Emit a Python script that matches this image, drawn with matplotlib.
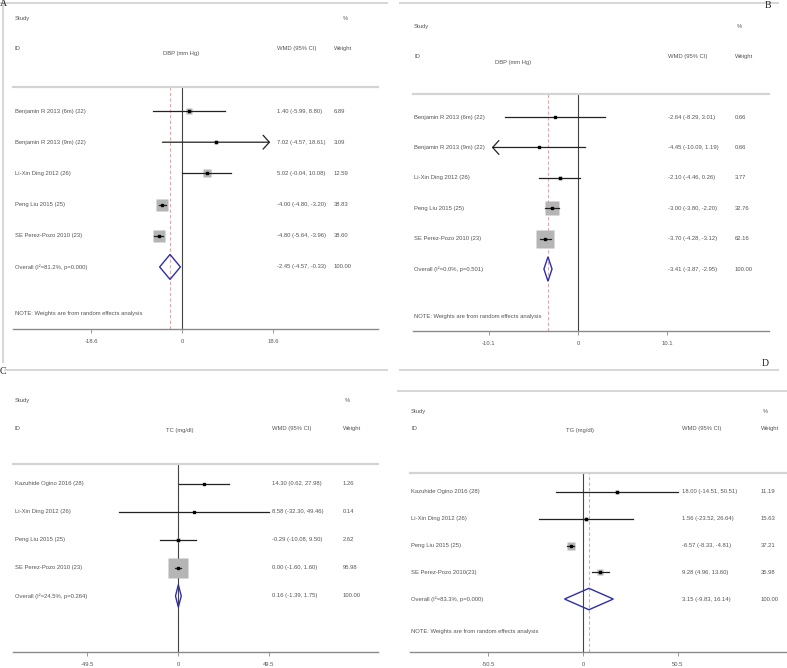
import numpy as np
import matplotlib
matplotlib.use("Agg")
import matplotlib.pyplot as plt
import matplotlib.transforms as mtransforms
from matplotlib.lines import Line2D
from matplotlib.patches import Polygon

plt.rcParams["font.family"] = ["Liberation Sans", "DejaVu Sans"]

W, H = 787, 668

# -----------------------------
# Data
# -----------------------------
# A: DBP
a_studies = ["Benjamin R 2013 (6m) (22)", "Benjamin R 2013 (9m) (22)",
             "Li-Xin Ding 2012 (26)", "Peng Liu 2015 (25)", "SE Perez-Pozo 2010 (23)"]
a_est = [1.40, 7.02, 5.02, -4.00, -4.80]
a_lo = [-5.99, -4.57, -0.04, -4.80, -5.64]
a_hi = [8.80, 18.61, 10.08, -3.20, -3.96]
a_wt = [6.89, 3.09, 12.59, 38.83, 38.60]
a_arrow = ["", "right", "", "", ""]
a_overall = [-2.45, -4.57, -0.33]
a_het = "Overall (I\u00b2=81.2%, p=0.000)"
a_ticks = [-18.6, 0, 18.6]
a_title = "DBP (mm Hg)"

# B: DBP
b_studies = ["Benjamin R 2013 (6m) (22)", "Benjamin R 2013 (9m) (22)",
             "Li-Xin Ding 2012 (26)", "Peng Liu 2015 (25)", "SE Perez-Pozo 2010 (23)"]
b_est = [-2.64, -4.45, -2.10, -3.00, -3.70]
b_lo = [-8.29, -10.09, -4.46, -3.80, -4.28]
b_hi = [3.01, 1.19, 0.26, -2.20, -3.12]
b_wt = [0.66, 0.66, 3.77, 32.76, 62.16]
b_arrow = ["", "left", "", "", ""]
b_overall = [-3.41, -3.87, -2.95]
b_het = "Overall (I\u00b2=0.0%, p=0.501)"
b_ticks = [-10.1, 0, 10.1]
b_title = "DBP (mm Hg)"

# C: TC
c_studies = ["Kazuhide Ogino 2016 (28)", "Li-Xin Ding 2012 (26)",
             "Peng Liu 2015 (25)", "SE Perez-Pozo 2010 (23)"]
c_est = [14.30, 8.58, -0.29, 0.00]
c_lo = [0.62, -32.30, -10.08, -1.60]
c_hi = [27.98, 49.46, 9.50, 1.60]
c_wt = [1.26, 0.14, 2.62, 95.98]
c_arrow = ["", "", "", ""]
c_overall = [0.16, -1.39, 1.75]
c_het = "Overall (I\u00b2=24.5%, p=0.264)"
c_ticks = [-49.5, 0, 49.5]
c_title = "TC (mg/dl)"

# D: TG
d_studies = ["Kazuhide Ogino 2016 (28)", "Li-Xin Ding 2012 (26)",
             "Peng Liu 2015 (25)", "SE Perez-Pozo 2010(23)"]
d_est = [18.00, 1.56, -6.57, 9.28]
d_lo = [-14.51, -23.52, -8.33, 4.96]
d_hi = [50.51, 26.64, -4.81, 13.60]
d_wt = [11.19, 15.63, 37.21, 35.98]
d_arrow = ["", "", "", ""]
d_overall = [3.15, -9.83, 16.14]
d_het = "Overall (I\u00b2=83.3%, p=0.000)"
d_ticks = [-50.5, 0, 50.5]
d_title = "TG (mg/dl)"

NOTE = "NOTE: Weights are from random effects analysis"
TXT = "#555555"
FS = 4.2


def px_rect(x0, x1, ytop, ybot):
    return [x0 / W, 1 - ybot / H, (x1 - x0) / W, (ybot - ytop) / H]


def forest(fig, rect, xlim, ylim, studies, est, lo, hi, wt, arrows,
           overall, het, ticks, title, lay, box_k, note=True):
    ax = fig.add_axes(rect)
    ax.set_xlim(*xlim)
    ax.set_ylim(*ylim)  # inverted: first row on top
    for s in ["left", "right"]:
        ax.spines[s].set_visible(False)
    ax.spines["top"].set_color("#d4d4d4")
    ax.spines["top"].set_linewidth(1.6)
    ax.spines["bottom"].set_color("#8a8a8a")
    ax.spines["bottom"].set_linewidth(1.0)
    ax.set_yticks([])
    ax.set_xticks(ticks)
    ax.set_xticklabels(["{:g}".format(t) for t in ticks])
    ax.tick_params(axis="x", length=3, width=0.6, color="#8a8a8a",
                   labelsize=FS, labelcolor=TXT, pad=4)

    ax.axvline(overall[0], color="#dcaaaa", lw=0.8, ls=(0, (3, 2)), zorder=0.9)
    ax.axvline(0, color="#444444", lw=0.8, zorder=1)

    arrow_style = dict(arrowstyle="->,head_length=0.45,head_width=0.5",
                       lw=0.9, color="#222222")
    tr = mtransforms.blended_transform_factory(ax.transAxes, ax.transData)
    for i in range(len(studies)):
        ax.plot(est[i], i, marker="s", ms=box_k * np.sqrt(wt[i]),
                color="#b5b5b5", mec="none", zorder=2)
        l, h = lo[i], hi[i]
        if arrows[i] == "right":
            ax.annotate("", xy=(ticks[-1], i), xytext=(l, i),
                        arrowprops=arrow_style, zorder=3)
        elif arrows[i] == "left":
            ax.annotate("", xy=(ticks[0], i), xytext=(h, i),
                        arrowprops=arrow_style, zorder=3)
        else:
            ax.plot([l, h], [i, i], color="#222222", lw=0.9, zorder=3)
        ax.plot(est[i], i, marker="s", ms=1.7, color="black", zorder=4)

        ax.text(lay["lab"], i, studies[i], transform=tr, fontsize=FS,
                color=TXT, va="center")
        ax.text(lay["est"], i, "{:.2f} ({:.2f}, {:.2f})".format(est[i], lo[i], hi[i]),
                transform=tr, fontsize=FS, color=TXT, va="center")
        ax.text(lay["wt"], i, "{:.2f}".format(wt[i]), transform=tr,
                fontsize=FS, color=TXT, va="center")

    # overall diamond
    yo = len(studies)
    dh = 0.4
    ax.add_patch(Polygon([[overall[1], yo], [overall[0], yo - dh],
                          [overall[2], yo], [overall[0], yo + dh]],
                         closed=True, fill=False, ec="#2e2eb0", lw=1.0, zorder=4))
    ax.text(lay["lab"], yo, het, transform=tr, fontsize=FS, color=TXT, va="center")
    ax.text(lay["est"], yo, "{:.2f} ({:.2f}, {:.2f})".format(*overall),
            transform=tr, fontsize=FS, color=TXT, va="center")
    ax.text(lay["wt"], yo, "100.00", transform=tr, fontsize=FS, color=TXT, va="center")

    # headers
    ax.text(lay["lab"], lay["study_y"], "Study", transform=tr, fontsize=FS,
            color=TXT, va="center")
    ax.text(lay["pct"], lay["study_y"], "%", transform=tr, fontsize=FS,
            color=TXT, va="center")
    ax.text(lay["lab"], lay["id_y"], "ID", transform=tr, fontsize=FS,
            color=TXT, va="center")
    ax.text(lay["title"], lay["title_y"], title, transform=tr, fontsize=FS,
            color=TXT, va="center", ha="center")
    ax.text(lay["est"], lay["id_y"], "WMD (95% CI)", transform=tr, fontsize=FS,
            color=TXT, va="center")
    ax.text(lay["wt"], lay["id_y"], "Weight", transform=tr, fontsize=FS,
            color=TXT, va="center")
    if note:
        ax.text(lay["lab"], lay["note_y"], NOTE, transform=tr, fontsize=FS,
                color=TXT, va="center")
    return ax


fig = plt.figure(figsize=(W / 100, H / 100), dpi=100)

forest(fig, px_rect(13, 378, 87, 329), (-34.56, 40.08), (6.99, -0.77),
       a_studies, a_est, a_lo, a_hi, a_wt, a_arrow, a_overall, a_het, a_ticks, a_title,
       dict(lab=0.005, title=0.46, est=0.723, wt=0.879, pct=0.904,
            study_y=-2.98, id_y=-1.99, title_y=-1.86, note_y=6.5), box_k=1.5)

forest(fig, px_rect(413, 769, 94, 331), (-18.73, 21.68), (7.04, -0.76),
       b_studies, b_est, b_lo, b_hi, b_wt, b_arrow, b_overall, b_het, b_ticks, b_title,
       dict(lab=0.003, title=0.281, est=0.716, wt=0.904, pct=0.91,
            study_y=-2.99, id_y=-2.01, title_y=-1.81, note_y=6.55), box_k=1.65)

forest(fig, px_rect(13, 378, 464, 652), (-89.8, 108.8), (6.0, -0.71),
       c_studies, c_est, c_lo, c_hi, c_wt, c_arrow, c_overall, c_het, c_ticks, c_title,
       dict(lab=0.005, title=0.457, est=0.71, wt=0.904, pct=0.91,
            study_y=-2.96, id_y=-1.96, title_y=-1.89, note_y=5.5), box_k=1.47, note=False)

forest(fig, px_rect(410, 787, 473, 652), (-92.0, 108.5), (5.98, -0.71),
       d_studies, d_est, d_lo, d_hi, d_wt, d_arrow, d_overall, d_het, d_ticks, d_title,
       dict(lab=0.003, title=0.45, est=0.722, wt=0.931, pct=0.936,
            study_y=-2.99, id_y=-2.36, title_y=-2.28, note_y=5.2), box_k=0.83)


# panel frames and letters
def fline(x0, y0, x1, y1, **kw):
    fig.add_artist(Line2D([x0 / W, x1 / W], [1 - y0 / H, 1 - y1 / H],
                          transform=fig.transFigure, **kw))


frame = dict(color="#d6d6d6", lw=1.4)
fline(0, 3, 387, 3, **frame)
fline(3, 3, 3, 362, **frame)
fline(400, 3, 778, 3, **frame)
fline(5, 370, 387, 370, **frame)
fline(400, 370, 778, 370, **frame)
fline(398, 391, 787, 391, **frame)

letter = dict(fontsize=7, family=["Liberation Serif", "DejaVu Serif"], color="#222222",
              va="center", ha="left")
fig.text(0 / W, 1 - 4 / H, "A", **letter)
fig.text(765 / W, 1 - 6 / H, "B", **letter)
fig.text(0 / W, 1 - 371 / H, "C", **letter)
fig.text(762 / W, 1 - 363 / H, "D", **letter)

fig.savefig("out.png", dpi=100)
